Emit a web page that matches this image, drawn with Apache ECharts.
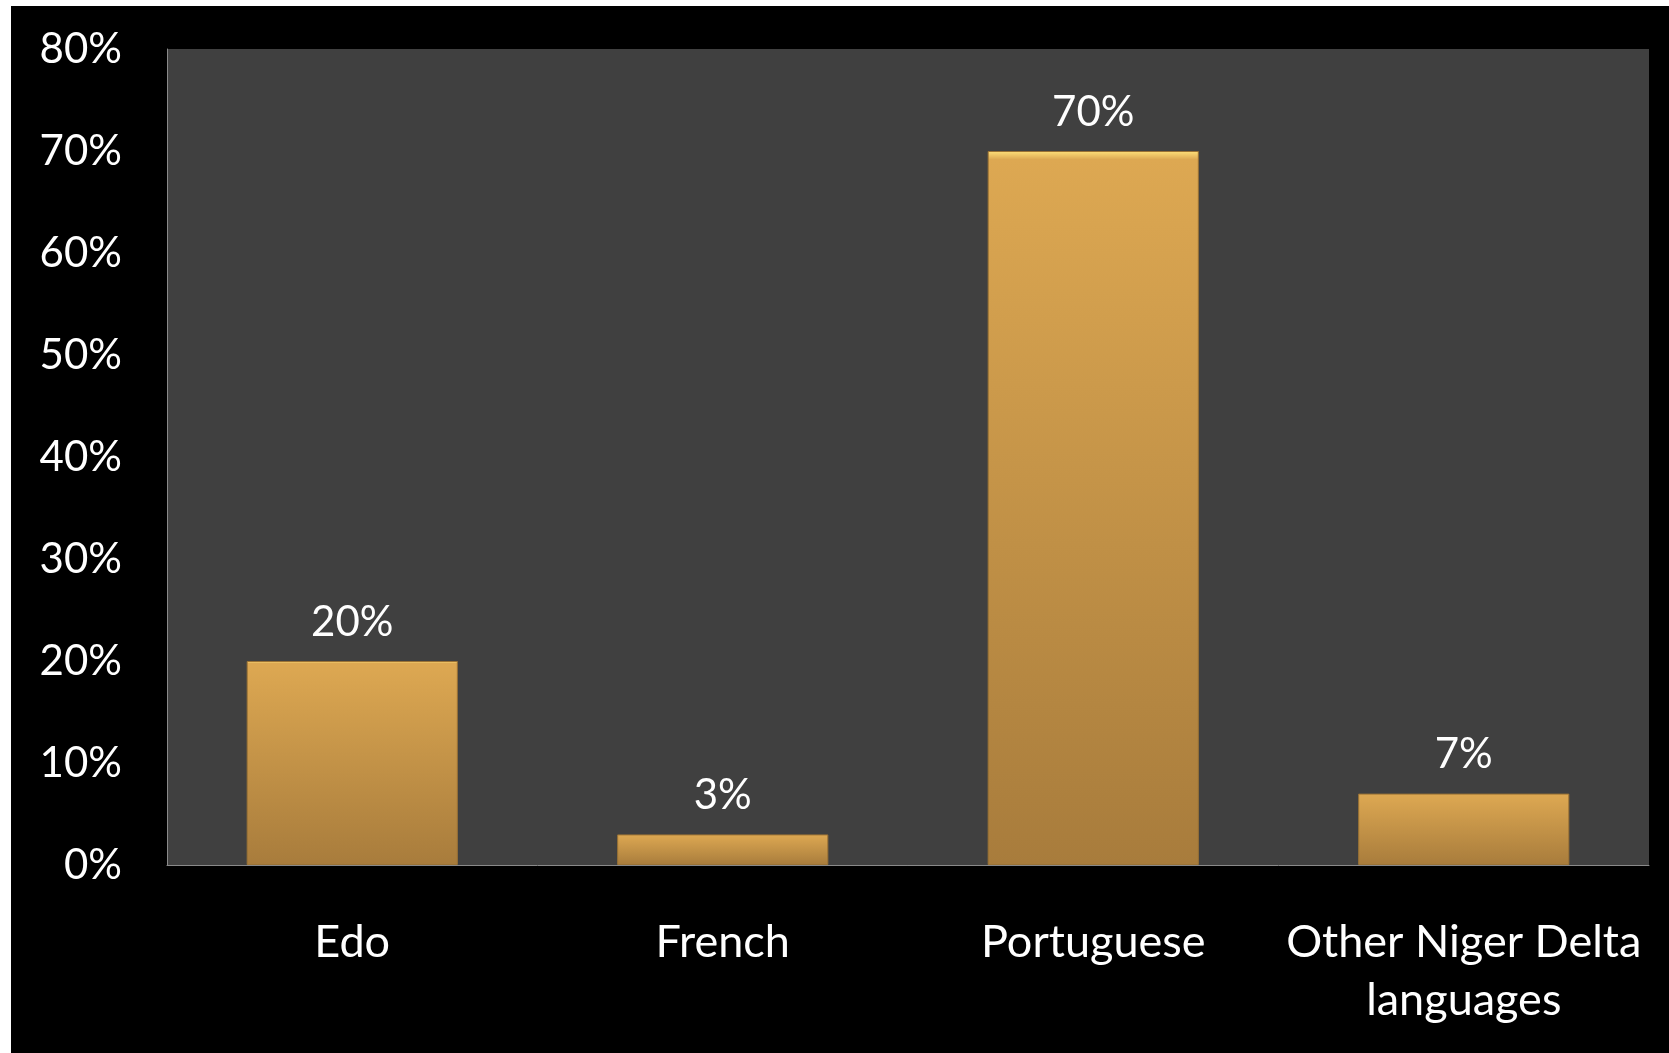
<!DOCTYPE html>
<html><head><meta charset="utf-8">
<script src="https://cdn.jsdelivr.net/npm/echarts@6/dist/echarts.min.js"></script>
<style>
html,body{margin:0;padding:0;background:#fff;width:1669px;height:1053px;overflow:hidden}
#c{position:absolute;left:11px;top:6px;width:1658px;height:1047px;background:#000}
</style></head>
<body><div id="c"></div>
<script>
const categories = ['Edo', 'French', 'Portuguese', 'Other Niger Delta\nlanguages'];
const values = [20, 3, 70, 7];
const yTicks = [0, 10, 20, 30, 40, 50, 60, 70, 80];

const FONT = 'Lato, "Open Sans", sans-serif';
const chart = echarts.init(document.getElementById('c'));
chart.setOption({
  backgroundColor: '#000',
  animation: false,
  grid: {left: 156, top: 43, right: 20, bottom: 188, show: true, backgroundColor: '#404040', borderWidth: 0},
  xAxis: {
    type: 'category', data: categories,
    axisLine: {lineStyle: {color: '#8a8a8a', width: 1}},
    axisTick: {show: false},
    axisLabel: {color: '#fff', fontFamily: FONT, fontSize: 45, lineHeight: 58, margin: 48, interval: 0}
  },
  yAxis: {
    type: 'value', min: yTicks[0], max: yTicks[yTicks.length - 1], interval: 10,
    axisLine: {show: true, lineStyle: {color: '#8a8a8a', width: 1}},
    axisTick: {show: false},
    splitLine: {show: false},
    axisLabel: {color: '#fff', fontFamily: FONT, fontSize: 42, margin: 45, formatter: v => v + '%'}
  },
  series: [{
    type: 'bar', data: values, barWidth: '57%',
    itemStyle: {
      color: new echarts.graphic.LinearGradient(0, 0, 0, 1, [
        {offset: 0, color: '#ffe07a'},
        {offset: 0.012, color: '#dda852'},
        {offset: 1, color: '#a87c3c'}
      ]),
      borderColor: '#9a7235', borderWidth: 1
    },
    label: {show: true, position: 'top', distance: 18, color: '#fff', fontFamily: FONT, fontSize: 42, formatter: p => p.value + '%'}
  }]
});
</script></body></html>
